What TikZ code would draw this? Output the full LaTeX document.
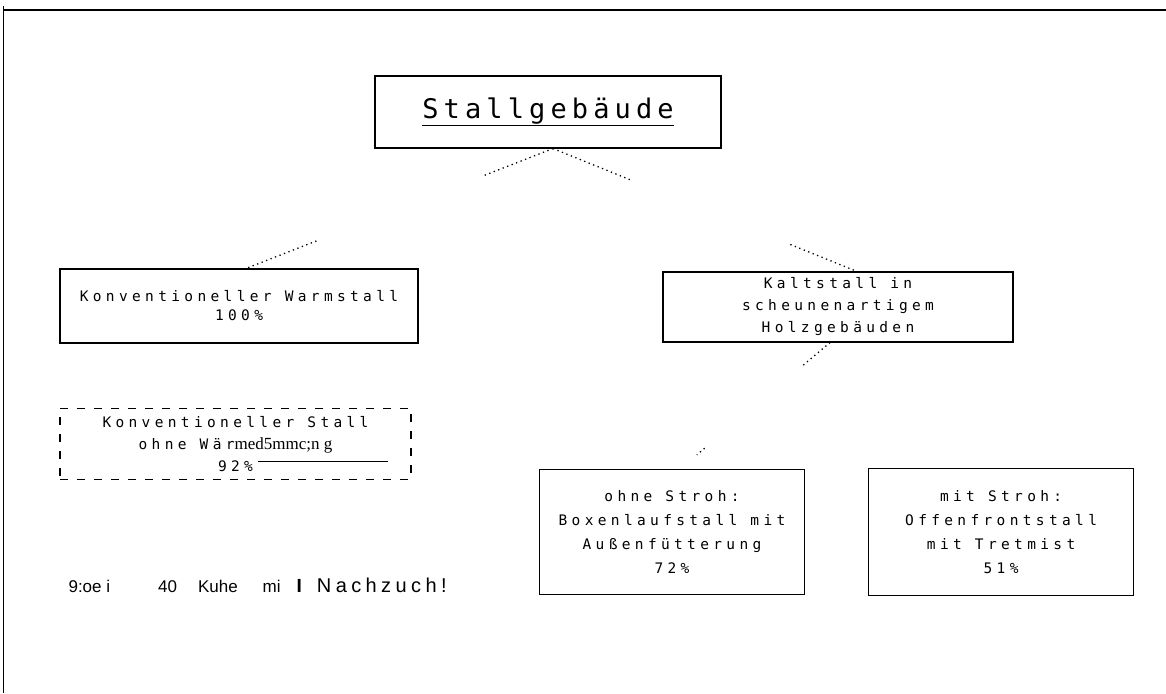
\documentclass[tikz,border=0pt]{standalone}
\usepackage{fontspec}
\newfontfamily\plotfont{DejaVu Sans Mono}[LetterSpace=30]
\newfontfamily\headfont{DejaVu Sans Mono}[LetterSpace=19]
\newfontfamily\ocrserif{Liberation Serif}
\newfontfamily\ocrsans{Liberation Sans}
\newfontfamily\ocrwide{Liberation Sans}[LetterSpace=22]
\usetikzlibrary{positioning}

\begin{document}
\begin{tikzpicture}[x=1pt, y=-1pt, line width=1.1pt,
  box/.style={draw, inner sep=0pt, align=center, font=\plotfont\fontsize{14.5}{22}\selectfont},
  dashbox/.style={box, dash pattern=on 8pt off 9pt},
  link/.style={line width=1.3pt, dash pattern=on 1.3pt off 3.5pt}]
\useasboundingbox (0,0) rectangle (1166,693);
% frame
\draw[line width=2.5pt] (3,10) -- (1166,10);
\draw[line width=0.8pt] (3,6) -- (3,693);
\node[box, minimum width=346pt, minimum height=72pt] (stall) at (548,112) {\headfont\fontsize{27}{27}\selectfont\underline{Stallgebäude}};
\node[box, minimum width=358pt, minimum height=74pt, font=\plotfont\fontsize{14.5}{19}\selectfont] (warm) at (239,306) {Konventioneller Warmstall\\100\%};
\node[box, minimum width=350pt, minimum height=70pt] (kalt) at (838,307) {Kaltstall in\\scheunenartigem\\Holzgebäuden};
\node[dashbox, minimum width=351pt, minimum height=71pt, below=64pt of warm.south west, anchor=north west] (konv)
  {Konventioneller Stall\\ohne Wär{\ocrserif\fontsize{17}{17}\selectfont med5mmc;n g}\\92\%\rlap{\hspace{5pt}\rule[9pt]{130pt}{0.8pt}}};
\node[box, minimum width=265pt, minimum height=125pt, font=\plotfont\fontsize{14.5}{24}\selectfont] (ohne) at (672,532) {ohne Stroh:\\Boxenlaufstall mit\\Außenfütterung\\72\%};
\node[box, minimum width=265pt, minimum height=127pt, font=\plotfont\fontsize{14.5}{24}\selectfont, right=63pt of ohne] (mit) {mit Stroh:\\Offenfrontstall\\mit Tretmist\\51\%};
\node[anchor=west, inner sep=0pt, font=\ocrsans\fontsize{17}{17}\selectfont] (herd) at (68,585)
  {9:oe i\hspace{48pt}40\hspace{21pt}Kuhe\hspace{25pt}mi\hspace{16pt}{\bfseries\fontsize{19}{19}\selectfont I}\hspace{15pt}{\ocrwide\fontsize{20}{20}\selectfont Nachzuch!}};
% broken connectors
\draw[link, shorten >=255pt] ([xshift=5pt]stall.south) -- ([xshift=7pt]warm.north);
\draw[link, shorten <=254pt] ([xshift=5pt]stall.south) -- ([xshift=7pt]warm.north);
\draw[link, shorten >=242pt] ([xshift=5pt]stall.south) -- ([xshift=19pt]kalt.north);
\draw[link, shorten <=256pt] ([xshift=5pt]stall.south) -- ([xshift=19pt]kalt.north);
\draw[link, shorten >=160pt] ([xshift=-8pt]kalt.south) -- ([xshift=8pt]ohne.north);
\draw[link, shorten <=164pt, shorten >=22pt] ([xshift=-8pt]kalt.south) -- ([xshift=8pt]ohne.north);
\end{tikzpicture}
\end{document}
